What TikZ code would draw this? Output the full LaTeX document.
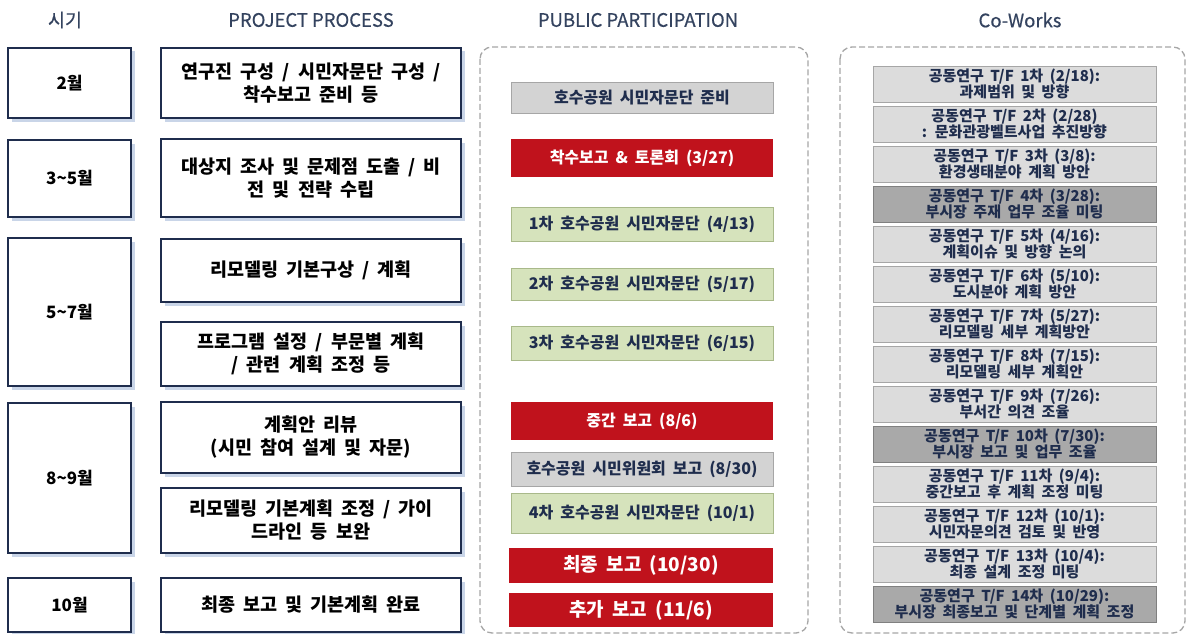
\documentclass[tikz,border=0pt]{standalone}
\usepackage{fontspec}
\setmainfont{Noto Sans CJK KR}[WordSpace=1.9]
\newfontfamily\headfont{Noto Sans CJK KR}[FakeBold=0.5]
\usepackage{xcolor}
\usepackage{tikz}
\usetikzlibrary{shadows}

\definecolor{navy}{HTML}{1F2D4D}
\definecolor{headgray}{HTML}{34435F}
\definecolor{shadowblue}{HTML}{C9D5E8}
\definecolor{repred}{HTML}{C0121C}
\definecolor{citgreen}{HTML}{D6E3BC}
\definecolor{citgreenline}{HTML}{A9B98A}
\definecolor{prepgray}{HTML}{D3D3D3}
\definecolor{prepline}{HTML}{A6A6A6}
\definecolor{tflight}{HTML}{DCDCDC}
\definecolor{tfdark}{HTML}{A9A9A9}

\begin{document}
\begin{tikzpicture}[x=1pt, y=-1pt,
    head/.style={text=headgray, font=\headfont\fontsize{18.5}{22}\selectfont},
    timebox/.style={draw=navy, line width=2.2pt, fill=white, minimum width=123pt,
        inner sep=0pt, text=black, font=\fontsize{17}{20}\selectfont\bfseries,
        drop shadow={shadow xshift=3.5pt, shadow yshift=-3.5pt, fill=shadowblue, opacity=1}},
    procbox/.style={timebox, minimum width=300pt, align=center,
        font=\fontsize{18.5}{23}\selectfont\bfseries},
    partbox/.style={minimum width=262pt, inner sep=0pt, line width=0.8pt,
        font=\fontsize{16}{19}\selectfont\bfseries},
    prep/.style={partbox, draw=prepline, fill=prepgray, text=navy},
    report/.style={partbox, fill=repred, text=white},
    citizen/.style={partbox, draw=citgreenline, fill=citgreen, text=navy},
    tfbox/.style={minimum width=283pt, minimum height=36pt, inner sep=0pt, align=center,
        line width=0.8pt, draw=prepline, fill=tflight, text=navy,
        font=\fontsize{15}{16.5}\selectfont\bfseries},
    tfmeet/.style={tfbox, fill=tfdark, draw=gray},
    frame/.style={draw=gray!70, line width=1.3pt, dash pattern=on 6pt off 3pt, rounded corners=12pt}]

    \useasboundingbox (0,0) rectangle (1187,634);

    % 1. Column headings
    \node[head] (hTime) at (65,20) {시기};
    \node[head] (hProc) at (311,20) {PROJECT PROCESS};
    \node[head] (hPart) at (638,20) {PUBLIC PARTICIPATION};
    \node[head] (hCo) at (1020,20) {Co-Works};

    % 2. Dashed frames
    \draw[frame] (480,47) rectangle (808,633);
    \draw[frame] (840,47) rectangle (1185,633);

    % 3. Time column
    \node[timebox, minimum height=70pt] (t1) at (69.5,83) {2월};
    \node[timebox, minimum height=77pt] (t2) at (69.5,178.5) {3\textasciitilde5월};
    \node[timebox, minimum height=148pt] (t3) at (69.5,312) {5\textasciitilde7월};
    \node[timebox, minimum height=150pt] (t4) at (69.5,478) {8\textasciitilde9월};
    \node[timebox, minimum height=54pt] (t5) at (69.5,605) {10월};

    % 4. Project process
    \node[procbox, minimum height=70pt] (p1) at (311,83) {연구진 구성 / 시민자문단 구성 /\\착수보고 준비 등};
    \node[procbox, minimum height=78pt] (p2) at (311,178) {대상지 조사 및 문제점 도출 / 비\\전 및 전략 수립};
    \node[procbox, minimum height=63pt] (p3) at (311,270.5) {리모델링 기본구상 / 계획};
    \node[procbox, minimum height=64pt] (p4) at (311,354) {프로그램 설정 / 부문별 계획\\/ 관련 계획 조정 등};
    \node[procbox, minimum height=71pt] (p5) at (311,437.5) {계획안 리뷰\\(시민 참여 설계 및 자문)};
    \node[procbox, minimum height=65pt] (p6) at (311,520.5) {리모델링 기본계획 조정 / 가이\\드라인 등 보완};
    \node[procbox, minimum height=54pt] (p7) at (311,605) {최종 보고 및 기본계획 완료};

    % 5. Public participation
    \node[prep, minimum height=31pt] (m1) at (642,97.5) {호수공원 시민자문단 준비};
    \node[report, minimum height=38pt] (m2) at (642,158) {착수보고 \& 토론회 (3/27)};
    \node[citizen, minimum height=34pt] (m3) at (642,224) {1차 호수공원 시민자문단 (4/13)};
    \node[citizen, minimum height=32pt] (m4) at (642,284) {2차 호수공원 시민자문단 (5/17)};
    \node[citizen, minimum height=34pt] (m5) at (642,343) {3차 호수공원 시민자문단 (6/15)};
    \node[report, minimum height=38pt] (m6) at (642,421) {중간 보고 (8/6)};
    \node[prep, minimum height=34pt] (m7) at (642,469) {호수공원 시민위원회 보고 (8/30)};
    \node[citizen, minimum height=40pt] (m8) at (642,513) {4차 호수공원 시민자문단 (10/1)};
    \node[report, minimum width=264pt, minimum height=35pt, font=\fontsize{19}{22}\selectfont\bfseries] (m9) at (641,565.5) {최종 보고 (10/30)};
    \node[report, minimum width=264pt, minimum height=34pt, font=\fontsize{19}{22}\selectfont\bfseries] (m10) at (641,610) {추가 보고 (11/6)};

    % 6. Co-Works
    \node[tfbox] (c1) at (1014.5,84) {공동연구 T/F 1차 (2/18):\\과제범위 및 방향};
    \node[tfbox] (c2) at (1014.5,124) {공동연구 T/F 2차 (2/28)\\: 문화관광벨트사업 추진방향};
    \node[tfbox] (c3) at (1014.5,164) {공동연구 T/F 3차 (3/8):\\환경생태분야 계획 방안};
    \node[tfmeet] (c4) at (1014.5,204) {공동연구 T/F 4차 (3/28):\\부시장 주재 업무 조율 미팅};
    \node[tfbox] (c5) at (1014.5,244) {공동연구 T/F 5차 (4/16):\\계획이슈 및 방향 논의};
    \node[tfbox] (c6) at (1014.5,284) {공동연구 T/F 6차 (5/10):\\도시분야 계획 방안};
    \node[tfbox] (c7) at (1014.5,324) {공동연구 T/F 7차 (5/27):\\리모델링 세부 계획방안};
    \node[tfbox] (c8) at (1014.5,364) {공동연구 T/F 8차 (7/15):\\리모델링 세부 계획안};
    \node[tfbox] (c9) at (1014.5,404) {공동연구 T/F 9차 (7/26):\\부서간 의견 조율};
    \node[tfmeet] (c10) at (1014.5,444) {공동연구 T/F 10차 (7/30):\\부시장 보고 및 업무 조율};
    \node[tfbox] (c11) at (1014.5,484) {공동연구 T/F 11차 (9/4):\\중간보고 후 계획 조정 미팅};
    \node[tfbox] (c12) at (1014.5,524) {공동연구 T/F 12차 (10/1):\\시민자문의견 검토 및 반영};
    \node[tfbox] (c13) at (1014.5,564) {공동연구 T/F 13차 (10/4):\\최종 설계 조정 미팅};
    \node[tfmeet] (c14) at (1014.5,604) {공동연구 T/F 14차 (10/29):\\부시장 최종보고 및 단계별 계획 조정};

\end{tikzpicture}
\end{document}
